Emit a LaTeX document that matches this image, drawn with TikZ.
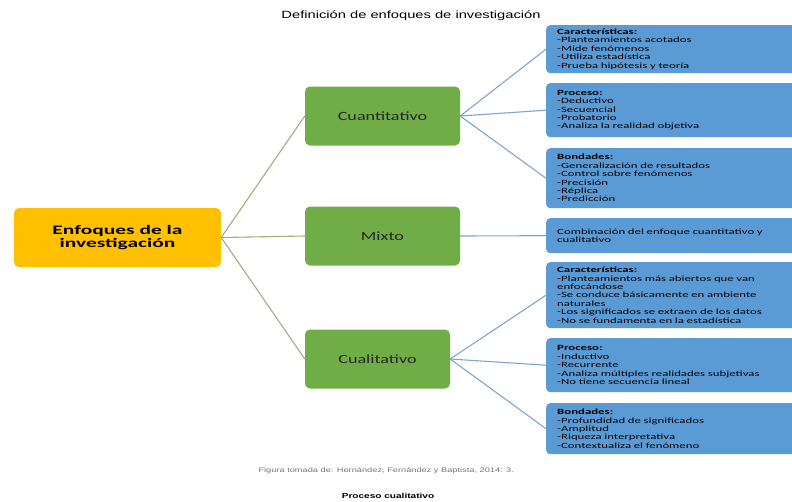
\documentclass[tikz,border=0pt]{standalone}
\usepackage{fontspec}
\setmainfont{Carlito}[FakeStretch=1.45]
\newfontfamily\raizfont{Carlito}[FakeStretch=1.65]
\newfontfamily\detallefont{Carlito}[FakeStretch=1.6]
\newfontfamily\arialfont{Liberation Sans}[FakeStretch=1.4]
\definecolor{amarillo}{RGB}{255,192,0}
\definecolor{verde}{RGB}{112,173,71}
\definecolor{azul}{RGB}{91,155,213}
\definecolor{lineaverde}{RGB}{165,172,125}
\definecolor{lineaazul}{RGB}{125,165,210}
\begin{document}
\begin{tikzpicture}[x=1pt, y=-1pt,
	raiz/.style={fill=amarillo, rounded corners=5pt, minimum width=207pt, minimum height=59pt, align=center, font=\raizfont\fontsize{13}{12.5}\selectfont\bfseries},
	enfoque/.style={fill=verde, rounded corners=5pt, minimum width=155pt, minimum height=59pt, font=\fontsize{12.5}{13}\selectfont, text=black!85},
	detalle/.style={fill=azul, rounded corners=4pt, minimum width=260pt, anchor=north west, inner xsep=11pt, text width=238pt, align=left, font=\detallefont\fontsize{8}{8.4}\selectfont},
	ramaverde/.style={draw=lineaverde, line width=1.1pt},
	ramaazul/.style={draw=lineaazul, line width=1.1pt}]
		\useasboundingbox (0,0) rectangle (792,501);
		\node (titulo) at (411, 16) {\arialfont\fontsize{10.5}{11}\selectfont Definición de enfoques de investigación};

		\node[raiz] (enfoques) at (117.5, 237.5) {Enfoques de la\\investigación};
		\node[enfoque] (cuanti) at (382.5, 116) {Cuantitativo};
		\node[enfoque] (mixto) at (382.5, 236) {Mixto};
		\node[enfoque, minimum width=145pt] (cuali) at (377.5, 359) {Cualitativo};

		\node[detalle, minimum height=48pt] (cuanticar) at (546, 25) {\textbf{Características:}\\-Planteamientos acotados\\-Mide fenómenos\\-Utiliza estadística\\-Prueba hipótesis y teoría};
		\node[detalle, minimum height=54pt] (cuantipro) at (546, 83) {\textbf{Proceso:}\\-Deductivo\\-Secuencial\\-Probatorio\\-Analiza la realidad objetiva};
		\node[detalle, minimum height=60pt] (cuantibon) at (546, 148) {\textbf{Bondades:}\\-Generalización de resultados\\-Control sobre fenómenos\\-Precisión\\-Réplica\\-Predicción};
		\node[detalle, minimum height=35pt] (mixtodef) at (546, 218) {Combinación del enfoque cuantitativo y\\cualitativo};
		\node[detalle, minimum height=66pt] (cualicar) at (546, 262) {\textbf{Características:}\\-Planteamientos más abiertos que van\\enfocándose\\-Se conduce básicamente en ambiente\\naturales\\-Los significados se extraen de los datos\\-No se fundamenta en la estadística};
		\node[detalle, minimum height=54pt] (cualipro) at (546, 338) {\textbf{Proceso:}\\-Inductivo\\-Recurrente\\-Analiza múltiples realidades subjetivas\\-No tiene secuencia lineal};
		\node[detalle, minimum height=51pt] (cualibon) at (546, 403) {\textbf{Bondades:}\\-Profundidad de significados\\-Amplitud\\-Riqueza interpretativa\\-Contextualiza el fenómeno};

		\node[anchor=west, text=black!55] (fuente) at (255, 471) {\arialfont\fontsize{6.6}{8}\selectfont Figura tomada de: Hernández, Fernández y Baptista, 2014: 3.};
		\node (proceso) at (388, 496) {\arialfont\fontsize{7.2}{8}\selectfont\bfseries Proceso cualitativo};

		\path (enfoques.east) edge[ramaverde] (cuanti.west)
		(enfoques.east) edge[ramaverde] (mixto.west)
		(enfoques.east) edge[ramaverde] (cuali.west);
		\path (cuanti.east) edge[ramaazul] (cuanticar.west)
		(cuanti.east) edge[ramaazul] (cuantipro.west)
		(cuanti.east) edge[ramaazul] (cuantibon.west)
		(mixto.east) edge[ramaazul] (mixtodef.west)
		(cuali.east) edge[ramaazul] (cualicar.west)
		(cuali.east) edge[ramaazul] (cualipro.west)
		(cuali.east) edge[ramaazul] (cualibon.west);
	\end{tikzpicture}
\end{document}
